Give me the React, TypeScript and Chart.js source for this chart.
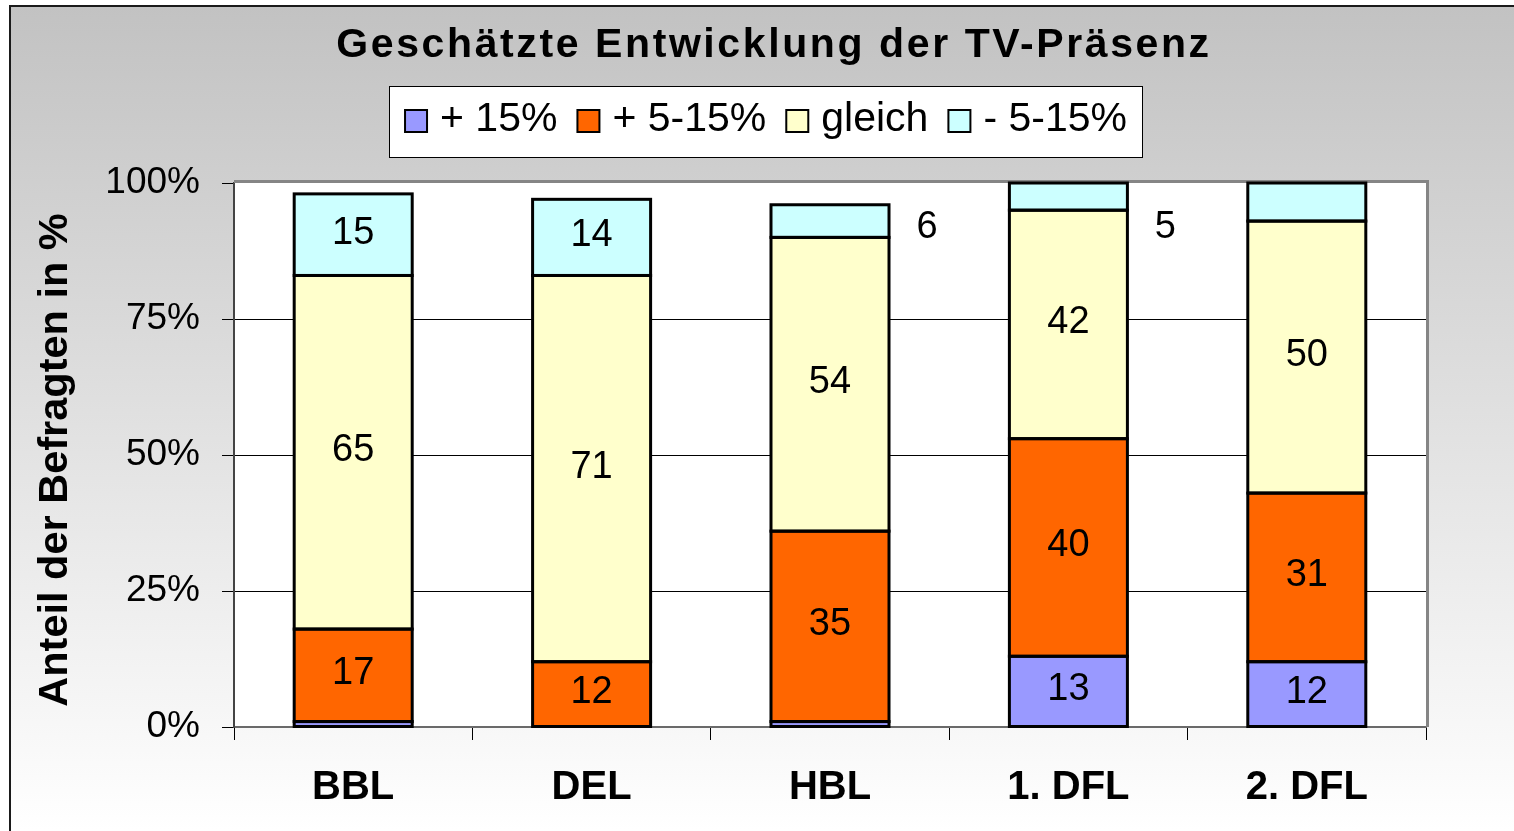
import React, { useEffect, useRef } from "react";
import { Chart, registerables } from "chart.js";

Chart.register(...registerables);

// ---- data ----
const categories = ["BBL", "DEL", "HBL", "1. DFL", "2. DFL"];
const seriesNames = ["+ 15%", "+ 5-15%", "gleich", "- 5-15%"];
const plus15 = [1, 0, 1, 13, 12];
const plus5to15 = [17, 12, 35, 40, 31];
const gleich = [65, 71, 54, 42, 50];
const minus5to15 = [15, 14, 6, 5, 7];
// data labels shown in the chart (null = no label)
const plus15Labels = [null, null, null, 13, 12];
const plus5to15Labels = [17, 12, 35, 40, 31];
const gleichLabels = [65, 71, 54, 42, 50];
const minus5to15Labels = [15, 14, 6, 5, null];
const yTickValues = [0, 25, 50, 75, 100];

const chartTitle = "Geschätzte Entwicklung der TV-Präsenz";
const yAxisTitle = "Anteil der Befragten in %";

const seriesColors = ["#9999FF", "#FF6600", "#FFFFCC", "#CCFFFF"];
const FONT = '"Liberation Sans", Arial, Helvetica, sans-serif';

const W = 1514;
const H = 831;

const allLabels = [plus15Labels, plus5to15Labels, gleichLabels, minus5to15Labels];

const decorPlugin = {
  id: "decor",
  beforeDraw(chart: any) {
    const ctx = chart.ctx as CanvasRenderingContext2D;
    const ca = chart.chartArea;
    ctx.save();
    ctx.fillStyle = "#ffffff";
    ctx.fillRect(0, 0, W, H);
    const g = ctx.createLinearGradient(0, 6, 0, H);
    g.addColorStop(0, "#c2c2c2");
    g.addColorStop(1, "#ffffff");
    ctx.fillStyle = g;
    ctx.fillRect(10, 6, W - 10, H - 6);
    ctx.strokeStyle = "#1a1a1a";
    ctx.lineWidth = 2;
    ctx.beginPath();
    ctx.moveTo(10, H);
    ctx.lineTo(10, 6);
    ctx.lineTo(W, 6);
    ctx.stroke();

    // plot area
    ctx.fillStyle = "#ffffff";
    ctx.fillRect(ca.left, ca.top, ca.right - ca.left, ca.bottom - ca.top);

    // title
    ctx.fillStyle = "#000";
    ctx.font = `bold 41px ${FONT}`;
    (ctx as any).letterSpacing = "2.6px";
    ctx.textAlign = "center";
    ctx.textBaseline = "middle";
    ctx.fillText(chartTitle, 774, 46);
    (ctx as any).letterSpacing = "0px";

    // legend
    const bx = 389.5, by = 86.5, bw = 753, bh = 71;
    ctx.fillStyle = "#fff";
    ctx.fillRect(bx, by, bw, bh);
    ctx.strokeStyle = "#000";
    ctx.lineWidth = 1;
    ctx.strokeRect(bx, by, bw, bh);
    ctx.font = `41px ${FONT}`;
    const marker = 22, gapText = 13, gapItem = 20;
    const widths = seriesNames.map((s) => ctx.measureText(s).width);
    const total = widths.reduce((a, b) => a + b, 0) + seriesNames.length * (marker + gapText) + (seriesNames.length - 1) * gapItem;
    let x = bx + bw / 2 - total / 2;
    const cy = 121;
    ctx.textAlign = "left";
    seriesNames.forEach((s, i) => {
      ctx.fillStyle = seriesColors[i];
      ctx.fillRect(x, cy - marker / 2, marker, marker);
      ctx.strokeStyle = "#000";
      ctx.lineWidth = 2;
      ctx.strokeRect(x, cy - marker / 2, marker, marker);
      x += marker + gapText;
      ctx.fillStyle = "#000";
      ctx.fillText(s, x, cy - 1);
      x += widths[i] + gapItem;
    });

    // y axis title
    ctx.save();
    ctx.translate(56, (ca.top + ca.bottom) / 2 + 5);
    ctx.rotate(-Math.PI / 2);
    ctx.font = `bold 41.5px ${FONT}`;
    ctx.textAlign = "center";
    ctx.textBaseline = "middle";
    ctx.fillStyle = "#000";
    ctx.fillText(yAxisTitle, 0, 0);
    ctx.restore();

    ctx.restore();
  },
  beforeDatasetsDraw(chart: any) {
    const ctx = chart.ctx as CanvasRenderingContext2D;
    const ca = chart.chartArea;
    ctx.save();
    ctx.strokeStyle = "#858585";
    ctx.lineWidth = 3;
    ctx.beginPath();
    ctx.moveTo(ca.left, ca.top - 1.5);
    ctx.lineTo(ca.right + 1.5, ca.top - 1.5);
    ctx.lineTo(ca.right + 1.5, ca.bottom);
    ctx.stroke();
    ctx.restore();
  },
  afterDatasetsDraw(chart: any) {
    const ctx = chart.ctx as CanvasRenderingContext2D;
    const yScale = chart.scales.y;
    ctx.save();
    // segment outlines
    ctx.strokeStyle = "#000";
    ctx.lineWidth = 3;
    chart.data.datasets.forEach((ds: any, di: number) => {
      const meta = chart.getDatasetMeta(di);
      meta.data.forEach((bar: any, i: number) => {
        if (!ds.data[i]) return;
        const p = bar.getProps(["x", "y", "base", "width"], true);
        const top = Math.min(p.y, p.base);
        const h = Math.abs(p.base - p.y);
        ctx.strokeRect(p.x - p.width / 2, top, p.width, h);
      });
    });
    // labels
    ctx.font = `38px ${FONT}`;
    ctx.fillStyle = "#000";
    ctx.textAlign = "center";
    ctx.textBaseline = "middle";
    chart.data.datasets.forEach((ds: any, di: number) => {
      const meta = chart.getDatasetMeta(di);
      meta.data.forEach((bar: any, i: number) => {
        const lab = allLabels[di][i];
        if (lab === null || lab === undefined) return;
        const p = bar.getProps(["x", "y", "base", "width"], true);
        const v = ds.data[i];
        if (v < 8) {
          ctx.fillText(String(lab), p.x + 97, yScale.getPixelForValue(91.8));
        } else {
          ctx.fillText(String(lab), p.x, (p.y + p.base) / 2 - 1.5);
        }
      });
    });
    ctx.restore();
  },
};

export default function App() {
  const ref = useRef<HTMLCanvasElement | null>(null);
  useEffect(() => {
    if (!ref.current) return;
    const seriesData = [plus15, plus5to15, gleich, minus5to15];
    const chart = new Chart(ref.current, {
      type: "bar",
      data: {
        labels: categories,
        datasets: seriesData.map((d, i) => ({
          label: seriesNames[i],
          data: d,
          backgroundColor: seriesColors[i],
          borderWidth: 0,
          inflateAmount: 0,
          categoryPercentage: 1,
          barPercentage: 0.495,
        })),
      },
      options: {
        responsive: false,
        animation: false,
        devicePixelRatio: 1,
        layout: { padding: { top: 183, right: 88, left: 0, bottom: 0 } },
        plugins: {
          legend: { display: false },
          title: { display: false },
          tooltip: { enabled: false },
        },
        scales: {
          x: {
            stacked: true,
            afterFit: (s: any) => {
              s.height = H - 727;
            },
            grid: {
              offset: true,
              drawOnChartArea: false,
              drawTicks: true,
              tickLength: 13,
              tickColor: "#000",
              lineWidth: 1,
            },
            border: { color: "#6a6a6a", width: 2 },
            ticks: {
              color: "#000",
              font: { family: FONT, size: 40, weight: "bold" },
              padding: 24,
              maxRotation: 0,
            },
          },
          y: {
            stacked: true,
            min: 0,
            max: 100,
            afterFit: (s: any) => {
              s.width = 234;
            },
            afterBuildTicks: (s: any) => {
              s.ticks = yTickValues.map((v) => ({ value: v }));
            },
            grid: {
              color: (c: any) => (c.tick && (c.tick.value === 0 || c.tick.value === 100) ? "rgba(0,0,0,0)" : "#000"),
              tickColor: "#000",
              tickLength: 12,
              lineWidth: 1,
            },
            border: { color: "#444", width: 2 },
            ticks: {
              color: "#000",
              font: { family: FONT, size: 37 },
              padding: 22,
              callback: (v: any) => v + "%",
            },
          },
        },
      },
      plugins: [decorPlugin],
    });
    return () => chart.destroy();
  }, []);
  return (
    <div style={{ position: "fixed", left: 0, top: 0, width: W, height: H }}>
      <canvas ref={ref} width={W} height={H} style={{ display: "block" }} />
    </div>
  );
}
